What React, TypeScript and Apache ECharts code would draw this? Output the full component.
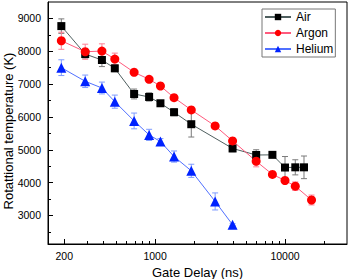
import React, { useEffect, useRef } from "react";
import * as echarts from "echarts";

const airX = [190, 290, 390, 490, 690, 900, 1100, 1400, 1900, 3950, 6000, 8000, 10000, 12000, 14000];
const airY = [8766, 7915, 7733, 7480, 6699, 6608, 6416, 6143, 5778, 5040, 4840, 4845, 4459, 4465, 4465];
const airErr = [220, 120, 200, 100, 150, 125, 60, 105, 390, 100, 160, 0, 335, 230, 345];

const argonX = [190, 290, 390, 490, 690, 900, 1100, 1400, 1900, 2900, 3950, 6000, 8000, 10000, 12000, 16000];
const argonY = [8320, 7985, 8006, 7763, 7359, 7146, 6942, 6587, 6213, 5726, 5270, 4650, 4250, 4064, 3890, 3470];
const argonErr = [260, 230, 220, 180, 100, 90, 60, 50, 50, 40, 40, 170, 40, 80, 130, 150];

const heliumX = [190, 290, 390, 490, 690, 900, 1100, 1400, 1900, 2900, 3950];
const heliumY = [7500, 7085, 6881, 6465, 5878, 5453, 5250, 4793, 4359, 3426, 2717];
const heliumErr = [240, 190, 180, 200, 240, 170, 90, 170, 200, 260, 30];

const xTickLabels = [200, 1000, 10000];
const xMinorTicks = [300, 400, 500, 600, 700, 800, 900, 2000, 3000, 4000, 5000, 6000, 7000, 8000, 9000, 20000];
const yTickLabels = [3000, 4000, 5000, 6000, 7000, 8000, 9000];
const yMinorTicks = [2500, 3500, 4500, 5500, 6500, 7500, 8500];

const FONT = "'Liberation Sans', Arial, sans-serif";
const X_MIN = 150;
const X_MAX = 30000;
const Y_MIN = 2130;
const Y_MAX = 9500;

function pairs(xs: number[], ys: number[]) {
  return xs.map((x, i) => [x, ys[i]]);
}
function errData(xs: number[], ys: number[], es: number[]) {
  return xs.map((x, i) => [x, ys[i] - es[i], ys[i] + es[i]]);
}
const plain = (v: any) => String(Math.round(Number(v)));

function errorSeries(name: string, data: number[][], color: string) {
  return {
    type: "custom",
    name: name + "-err",
    xAxisIndex: 0,
    yAxisIndex: 0,
    z: 1,
    silent: true,
    encode: { x: 0, y: [1, 2] },
    data,
    renderItem: (params: any, api: any) => {
      const x = api.value(0);
      const lo = api.coord([x, api.value(1)]);
      const hi = api.coord([x, api.value(2)]);
      const w = 3;
      const st = { stroke: color, lineWidth: 1 };
      return {
        type: "group",
        children: [
          { type: "line", shape: { x1: lo[0], y1: lo[1], x2: hi[0], y2: hi[1] }, style: st },
          { type: "line", shape: { x1: lo[0] - w, y1: lo[1], x2: lo[0] + w, y2: lo[1] }, style: st },
          { type: "line", shape: { x1: hi[0] - w, y1: hi[1], x2: hi[0] + w, y2: hi[1] }, style: st },
        ],
      };
    },
  };
}

export default function App() {
  const ref = useRef<HTMLDivElement>(null);
  useEffect(() => {
    if (!ref.current) return;
    const chart = echarts.init(ref.current, null, { renderer: "svg" });
    const option: any = {
      animation: false,
      backgroundColor: "#fff",
      textStyle: { fontFamily: FONT },
      grid: {
        left: 48,
        right: 3,
        top: 2,
        bottom: 35,
        show: true,
        borderColor: "#000",
        borderWidth: 1,
        outerBoundsMode: "none",
      },
      legend: {
        orient: "vertical",
        left: 262,
        top: 9,
        data: ["Air", "Argon", "Helium"],
        itemWidth: 26,
        itemHeight: 8,
        itemGap: 4,
        padding: [2, 2, 2, 2],
        borderColor: "#777",
        borderWidth: 1,
        textStyle: { fontSize: 12, color: "#000", fontFamily: FONT },
      },
      xAxis: [
        {
          type: "log",
          logBase: 10,
          min: X_MIN,
          max: X_MAX,
          position: "bottom",
          axisLine: { show: true, lineStyle: { color: "#000", width: 1 } },
          axisTick: { show: true, inside: true, length: 5, customValues: xTickLabels, lineStyle: { color: "#000" } },
          axisLabel: { show: true, customValues: xTickLabels, formatter: plain, fontSize: 10.5, color: "#000", margin: 6, fontFamily: FONT },
          splitLine: { show: false },
          minorTick: { show: false },
          name: "Gate Delay (ns)",
          nameLocation: "middle",
          nameGap: 20,
          nameTextStyle: { fontSize: 13, color: "#000", fontFamily: FONT },
        },
        {
          type: "log",
          logBase: 10,
          min: X_MIN,
          max: X_MAX,
          position: "bottom",
          axisLine: { show: false },
          axisTick: { show: true, inside: true, length: 3, customValues: xMinorTicks, lineStyle: { color: "#000" } },
          axisLabel: { show: false },
          splitLine: { show: false },
        },
      ],
      yAxis: [
        {
          type: "value",
          min: Y_MIN,
          max: Y_MAX,
          position: "left",
          axisLine: { show: true, lineStyle: { color: "#000", width: 1 } },
          axisTick: { show: true, inside: true, length: 5, customValues: yTickLabels, lineStyle: { color: "#000" } },
          axisLabel: { show: true, customValues: yTickLabels, formatter: plain, fontSize: 10.5, color: "#000", margin: 7, fontFamily: FONT },
          splitLine: { show: false },
        },
        {
          type: "value",
          min: Y_MIN,
          max: Y_MAX,
          position: "left",
          axisLine: { show: false },
          axisTick: { show: true, inside: true, length: 3, customValues: yMinorTicks, lineStyle: { color: "#000" } },
          axisLabel: { show: false },
          splitLine: { show: false },
        },
      ],
      graphic: [
        {
          type: "text",
          x: 8,
          y: 131,
          rotation: Math.PI / 2,
          style: {
            text: "Rotattional temperature (K)",
            textAlign: "center",
            textVerticalAlign: "middle",
            fontSize: 13,
            fontFamily: FONT,
            fill: "#000",
          },
        },
      ],
      series: [
        errorSeries("Air", errData(airX, airY, airErr), "#7a7a7a"),
        errorSeries("Argon", errData(argonX, argonY, argonErr), "#ff7f94"),
        errorSeries("Helium", errData(heliumX, heliumY, heliumErr), "#7f9cff"),
        {
          type: "line",
          name: "Air",
          xAxisIndex: 0,
          yAxisIndex: 0,
          z: 3,
          data: pairs(airX, airY),
          symbol: "rect",
          symbolSize: 8,
          itemStyle: { color: "#000" },
          lineStyle: { color: "#4f5f5f", width: 1 },
        },
        {
          type: "line",
          name: "Argon",
          xAxisIndex: 0,
          yAxisIndex: 0,
          z: 3,
          data: pairs(argonX, argonY),
          symbol: "circle",
          symbolSize: 9,
          itemStyle: { color: "#ff0000" },
          lineStyle: { color: "#ff5a7d", width: 1 },
        },
        {
          type: "line",
          name: "Helium",
          xAxisIndex: 0,
          yAxisIndex: 0,
          z: 3,
          data: pairs(heliumX, heliumY),
          symbol: "triangle",
          symbolSize: 10,
          itemStyle: { color: "#0022ff" },
          lineStyle: { color: "#5070ff", width: 1 },
        },
      ],
    };
    chart.setOption(option);
    return () => chart.dispose();
  }, []);
  return (
    <div
      ref={ref}
      style={{ position: "fixed", left: 0, top: 0, width: 350, height: 279 }}
    />
  );
}
